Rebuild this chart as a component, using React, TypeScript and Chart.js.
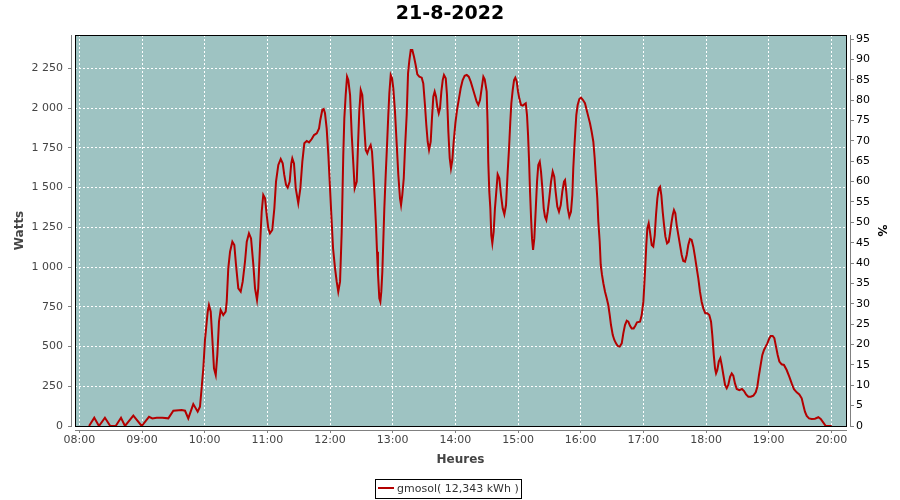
import React, { useEffect, useRef } from "react";
import { Chart, registerables } from "chart.js";

Chart.register(...registerables);

const chartTitle = "21-8-2022";
const seriesLabel = "gmosol( 12,343 kWh )";
const xAxisTitle = "Heures";
const yAxisTitle = "Watts";
const y2AxisTitle = "%";

const hourLabels = [
  "08:00", "09:00", "10:00", "11:00", "12:00", "13:00", "14:00",
  "15:00", "16:00", "17:00", "18:00", "19:00", "20:00",
];
const wattTicks = [0, 250, 500, 750, 1000, 1250, 1500, 1750, 2000, 2250];
const percentTicks = [0, 5, 10, 15, 20, 25, 30, 35, 40, 45, 50, 55, 60, 65, 70, 75, 80, 85, 90, 95];

// minutes after 08:00 / watts
const morningMinutes = [
  9.3, 14.3, 18.8, 24.5, 29.6, 34.8, 39.9, 43.7, 51.7, 59.7, 66.7, 69.9, 74.1, 79.4, 85.2,
  90, 98, 101.2, 104.3, 109.1, 113.3, 115.5, 117.2, 118.7, 120.3, 122.9, 124.1, 125.8,
  127.3, 128.9, 130.6, 132.1, 133.7, 135.3, 137.8, 140.1, 141.1, 142.6, 144.3, 146.5,
  148.4, 150, 152.2, 154.5, 156.4, 158.6, 160.3, 162.4, 164.4, 166.6, 168.2, 170.1,
  171.3, 173, 174.6, 176.1, 177.8, 179.4,
];
const morningWatts = [
  0, 52, 0, 52, 0, 0, 52, 0, 65, 0, 58, 48, 52, 52, 48,
  96, 100, 96, 48, 138, 90, 121, 247, 363, 541, 719, 761, 719,
  552, 363, 321, 447, 656, 730, 698, 719, 782, 992, 1096, 1159,
  1138, 1013, 866, 845, 908, 1033, 1159, 1212, 1180, 1013, 866, 793,
  866, 1138, 1348, 1453, 1432, 1327,
];

const middayMinutes = [
  180.9, 182.5, 184.7, 186.7, 188.3, 190.5, 192.8, 194.7, 196.2, 197.9, 199.5, 201.4,
  202.9, 203.9, 205.5, 207.2, 209.6, 211.6, 213.5, 215.4, 217.7, 219.9, 222.5, 224.7,
  227.3, 229.5, 230.7, 232.6, 234, 235.2, 236.8, 238.4, 240, 241.6, 242.9, 244.8, 246.4,
  247.9, 249.6, 251.2, 252.7, 253.7, 255, 256.3, 257.5, 259.2, 260.8, 262.3, 263.6,
  265.6, 266.8, 268, 269.4, 270.9, 272.5, 274.2, 275.7, 277.3, 278.9, 280.2, 281.4,
  282.8, 284, 285, 285.9, 287.2, 288.2, 289.1, 290.1, 291, 292, 293.3, 294.6, 295.8,
  296.8, 298.1, 299.4, 300.6, 302.2, 303.9, 305.4, 307, 308, 309.2, 310.6, 311.8,
  313.4, 314.7, 316, 317.3, 318.8, 320.4, 322, 323.6, 325.5, 327.8, 329.3, 330.9,
  332.2, 333.5, 334.8, 336.4, 337.6, 338.9, 340.2, 341.5, 342.7, 344.1, 345.3, 346.6,
  347.9, 349.1, 350.8, 352, 353.3, 354.6, 355.8, 357.1, 358.4, 360, 361.6, 363.2,
  365.1, 367, 368.9, 370.9, 372.8, 374.7, 376.6, 378.5, 380.4, 382, 383.6, 385.2,
  386.8, 388.1, 390, 390.9, 391.5, 392.5, 393.5, 394.4, 395.4, 396.7, 397.9, 399.2,
  400.5, 402.1, 403.7, 405.3, 406.9, 408.5, 410.1, 411.4, 412.6, 413.6, 414.9, 416.2,
  417.4, 418.8,
];
const middayWatts = [
  1243, 1212, 1233, 1369, 1537, 1642, 1679, 1652, 1579, 1516, 1499, 1537,
  1652, 1684, 1652, 1495, 1401, 1495, 1663, 1778, 1793, 1784, 1805, 1830,
  1841, 1872, 1925, 1988, 1994, 1967, 1872, 1705, 1495, 1285, 1118, 992, 908,
  845, 908, 1222, 1705, 1935, 2082, 2197, 2176, 2082, 1830, 1652, 1495,
  1537, 1768, 1977, 2113, 2082, 1914, 1736, 1715, 1747, 1768, 1726, 1600,
  1432, 1264, 1096, 960, 803, 782, 845, 971, 1159, 1369, 1579, 1768, 1956,
  2093, 2208, 2187, 2124, 1977, 1768, 1579, 1432, 1390, 1453, 1558, 1747,
  1956, 2218, 2302, 2365, 2365, 2323, 2271, 2212, 2197, 2191, 2155, 2019,
  1893, 1788, 1736, 1788, 1935, 2071, 2103, 2071, 2008, 1967, 1998, 2103,
  2176, 2208, 2187, 2082, 1851, 1684, 1621, 1673, 1788, 1904, 1988, 2050,
  2124, 2176, 2203, 2208, 2197, 2166, 2124, 2082, 2040, 2019, 2050, 2124,
  2197, 2180, 2103, 1893, 1663, 1474, 1369, 1201, 1149, 1222, 1369, 1474,
  1583, 1558, 1453, 1369, 1331, 1390, 1600, 1747, 1914, 2030, 2113, 2176,
  2191, 2166,
];

const afternoonMinutes = [
  420, 421.2, 422.9, 424.5, 426, 427.4, 428.6, 429.6, 430.6, 431.5, 432.5, 433.4,
  434.4, 435.6, 437, 438.2, 439.4, 440.8, 442, 443.3, 444.6, 445.8, 447.1, 448.4,
  449.9, 451.6, 453.2, 454.7, 456, 457.6, 459.2, 460.9, 462.4, 464, 465, 466.2, 467.6,
  469.1, 470.7, 472, 472.9, 473.9, 474.8, 475.8, 477.1, 478.7, 480.3, 482.2, 484.1,
  485.7, 487.3, 488.9, 490.5, 492.1, 493.4, 494.6, 495.9, 496.9, 498.2, 499.2, 500.4,
  501.7, 503.3, 504.9, 506.4, 507.8, 509, 510.7, 512.2, 513.8, 515.4, 517.3, 519.3,
  520.8, 522.4, 524.1, 525.6, 527.2, 528.8, 530.7, 532.3, 533.9, 536.8, 538.4, 540,
  540.9, 541.9, 542.8, 543.8, 545.1, 546.3, 548, 549.5, 550.9, 552.1, 553.4, 554.8,
  556, 557.2, 558.5, 559.8, 561.1, 562.7, 564.3, 565.5, 566.8, 568.1, 569.3, 570.6,
  571.9, 573.5, 575.1, 576.7, 578.2, 579.9, 581.5, 583, 584.6, 586.2, 587.8, 589.4,
  591.1, 592.6, 594.2, 595.8, 597.4, 599.3, 601.2, 603.1, 604.8, 606, 607.4, 608.6,
  609.6, 610.8, 612.2, 613.7, 615, 616.6, 618.2, 619.8, 621.3, 623, 624.6, 626.1,
  627.7, 629.4, 631.9, 634.4, 636.4, 638.3, 640.5, 642.8, 645.3, 647.6, 649.1, 650.7,
  652.3, 653.9, 655.5, 657.1, 658.7, 660.3, 661.9, 663.8, 665.4, 667, 668.6, 670.2,
  672.4, 674.6, 677.2, 679.7, 682, 684.2, 686.8, 689.3, 691.6, 693.1, 694.7, 696.4,
  698.6, 701.2, 704.3, 707.5, 709.8, 712.3, 714.6, 720.3,
];
const afternoonWatts = [
  2103, 2061, 2019, 2015, 2023, 2030, 1956, 1830, 1663, 1474, 1306, 1180,
  1107, 1180, 1369, 1537, 1642, 1663, 1600, 1495, 1369, 1317, 1296, 1348,
  1432, 1537, 1600, 1568, 1474, 1380, 1348, 1390, 1474, 1537, 1547, 1474, 1369,
  1317, 1348, 1453, 1621, 1747, 1851, 1956, 2019, 2057, 2065, 2050, 2030,
  1988, 1946, 1904, 1851, 1788, 1684, 1558, 1432, 1285, 1159, 1013, 950,
  898, 845, 803, 761, 698, 635, 572, 541, 520, 503, 499, 520,
  583, 635, 662, 656, 630, 614, 614, 631, 652, 656, 698, 782,
  887, 1013, 1138, 1243, 1275, 1222, 1138, 1128, 1201, 1327, 1432, 1495,
  1505, 1453, 1348, 1264, 1191, 1149, 1159, 1212, 1275, 1327, 1358, 1338,
  1264, 1201, 1138, 1076, 1038, 1034, 1076, 1138, 1176, 1170, 1128, 1065,
  992, 929, 845, 782, 740, 709, 709, 698, 656, 572, 447, 363,
  331, 352, 405, 426, 384, 321, 258, 237, 258, 310, 331, 317,
  268, 233, 226, 233, 220, 199, 184, 184, 191, 212, 247, 321,
  384, 447, 478, 499, 520, 547, 566, 566, 552, 499, 447, 405,
  388, 384, 352, 310, 268, 231, 212, 199, 174, 132, 90, 63,
  48, 44, 46, 55, 44, 21, 0, 0,
];

const PLOT_BG = "#9ec3c2";
const LINE_COLOR = "#b40000";
const AXIS_GRAY = "#808080";
const FONT = "'DejaVu Sans', sans-serif";

function formatWatts(v: number): string {
  const n = Math.round(v);
  if (n >= 1000) {
    const th = Math.floor(n / 1000);
    const rest = String(n % 1000).padStart(3, "0");
    return th + " " + rest;
  }
  return String(n);
}

const decorPlugin = {
  id: "decor",
  beforeDraw(chart: any) {
    const { ctx, chartArea: a } = chart;
    ctx.save();
    ctx.fillStyle = "#ffffff";
    ctx.fillRect(0, 0, chart.width, chart.height);
    ctx.fillStyle = PLOT_BG;
    ctx.fillRect(a.left, a.top, a.right - a.left, a.bottom - a.top);
    ctx.restore();
  },
  afterDatasetsDraw(chart: any) {
    const { ctx, chartArea: a } = chart;
    ctx.save();
    ctx.strokeStyle = "#000000";
    ctx.lineWidth = 1;
    ctx.strokeRect(a.left + 0.5, a.top + 0.5, a.right - a.left, a.bottom - a.top);

    ctx.strokeStyle = AXIS_GRAY;
    ctx.beginPath();
    const lx = a.left - 3.5;
    ctx.moveTo(lx, a.top);
    ctx.lineTo(lx, a.bottom + 1);
    const rx = a.right + 4.5;
    ctx.moveTo(rx, a.top);
    ctx.lineTo(rx, a.bottom + 1);
    const by = a.bottom + 4.5;
    ctx.moveTo(a.left, by);
    ctx.lineTo(a.right + 1, by);

    const ys = chart.scales.y;
    ys.ticks.forEach((t: any) => {
      const p = Math.round(ys.getPixelForValue(t.value) - 0.5) + 0.5;
      ctx.moveTo(lx - 3.5, p);
      ctx.lineTo(lx + 0.5, p);
    });
    const y2 = chart.scales.y2;
    y2.ticks.forEach((t: any) => {
      const p = Math.round(y2.getPixelForValue(t.value) - 0.5) + 0.5;
      ctx.moveTo(rx - 0.5, p);
      ctx.lineTo(rx + 3.5, p);
    });
    const xs = chart.scales.x;
    xs.ticks.forEach((t: any) => {
      const p = Math.round(xs.getPixelForValue(t.value) - 0.5) + 0.5;
      ctx.moveTo(p, by - 0.5);
      ctx.lineTo(p, by + 2.5);
    });
    ctx.stroke();
    ctx.restore();
  },
  afterDraw(chart: any) {
    const { ctx } = chart;
    ctx.save();
    ctx.font = "11px " + FONT;
    const label = chart.data.datasets[0].label;
    const tw = ctx.measureText(label).width;
    const bw = Math.round(2.5 + 16 + 3.5 + tw + 2);
    const bx = Math.round(447.5 - bw / 2);
    const by = 479;
    ctx.strokeStyle = "#000000";
    ctx.lineWidth = 1;
    ctx.strokeRect(bx + 0.5, by + 0.5, bw, 19);
    ctx.strokeStyle = LINE_COLOR;
    ctx.lineWidth = 2;
    ctx.beginPath();
    ctx.moveTo(bx + 3, by + 9);
    ctx.lineTo(bx + 19, by + 9);
    ctx.stroke();
    ctx.fillStyle = "#333333";
    ctx.textBaseline = "middle";
    ctx.textAlign = "left";
    ctx.fillText(label, bx + 22, by + 10);
    ctx.restore();
  },
};

export default function App() {
  const canvasRef = useRef<HTMLCanvasElement | null>(null);

  useEffect(() => {
    if (!canvasRef.current) return;
    const minutes = [...morningMinutes, ...middayMinutes, ...afternoonMinutes];
    const watts = [...morningWatts, ...middayWatts, ...afternoonWatts];
    const points = minutes.map((m, i) => ({ x: m, y: watts[i] }));
    const hourTickValues = hourLabels.map((_, i) => i * 60);

    Chart.defaults.font.family = FONT;

    const chart = new Chart(canvasRef.current, {
      type: "line",
      data: {
        datasets: [
          {
            label: seriesLabel,
            data: points,
            borderColor: LINE_COLOR,
            backgroundColor: LINE_COLOR,
            borderWidth: 2,
            pointRadius: 0,
            tension: 0,
            fill: false,
            yAxisID: "y",
            xAxisID: "x",
          },
        ],
      },
      options: {
        animation: false,
        responsive: false,
        devicePixelRatio: 1,
        layout: { padding: 0 },
        plugins: {
          legend: { display: false },
          tooltip: { enabled: false },
          title: {
            display: true,
            text: chartTitle,
            color: "#000000",
            font: { family: FONT, size: 19, weight: "bold" },
            padding: { top: 3, bottom: 9.2 },
          },
        },
        scales: {
          x: {
            type: "linear",
            position: "bottom",
            min: -4.15,
            max: 734,
            afterBuildTicks: (s: any) => {
              s.ticks = hourTickValues.map((v) => ({ value: v }));
            },
            afterFit: (s: any) => {
              s.height = 74;
            },
            grid: { color: "#ffffff", lineWidth: 1, drawTicks: false },
            border: { display: false, dash: [2, 2] },
            ticks: {
              autoSkip: false,
              maxRotation: 0,
              padding: 8,
              color: "#444444",
              font: { family: FONT, size: 11 },
              callback: (v: any) => hourLabels[Math.round(Number(v) / 60)] ?? "",
            },
            title: {
              display: true,
              text: xAxisTitle,
              color: "#444444",
              font: { family: FONT, size: 12, weight: "bold" },
              padding: { top: 4, bottom: 32.8 },
            },
          },
          y: {
            type: "linear",
            position: "left",
            min: 0,
            max: 2459.4,
            afterBuildTicks: (s: any) => {
              s.ticks = wattTicks.map((v) => ({ value: v }));
            },
            afterFit: (s: any) => {
              s.width = 75;
            },
            grid: { color: "#ffffff", lineWidth: 1, drawTicks: false },
            border: { display: false, dash: [2, 2] },
            ticks: {
              autoSkip: false,
              padding: 12,
              color: "#444444",
              font: { family: FONT, size: 11 },
              callback: (v: any) => formatWatts(Number(v)),
            },
            title: {
              display: true,
              text: yAxisTitle,
              color: "#444444",
              font: { family: FONT, size: 12, weight: "bold" },
              padding: { top: 13, bottom: 4 },
            },
          },
          y2: {
            type: "linear",
            position: "right",
            min: 0,
            max: 96,
            afterBuildTicks: (s: any) => {
              s.ticks = percentTicks.map((v) => ({ value: v }));
            },
            afterFit: (s: any) => {
              s.width = 54;
            },
            grid: { display: false, drawTicks: false },
            border: { display: false },
            ticks: {
              autoSkip: false,
              padding: 10,
              color: "#000000",
              font: { family: FONT, size: 11 },
            },
            title: {
              display: true,
              text: y2AxisTitle,
              color: "#000000",
              font: { family: FONT, size: 12, weight: "bold" },
              padding: { top: 12, bottom: 4 },
            },
          },
        },
      } as any,
      plugins: [decorPlugin],
    });

    return () => chart.destroy();
  }, []);

  return (
    <div style={{ position: "fixed", left: 0, top: 0, width: 900, height: 500, background: "#ffffff" }}>
      <canvas ref={canvasRef} width={900} height={500} style={{ display: "block" }} />
    </div>
  );
}
